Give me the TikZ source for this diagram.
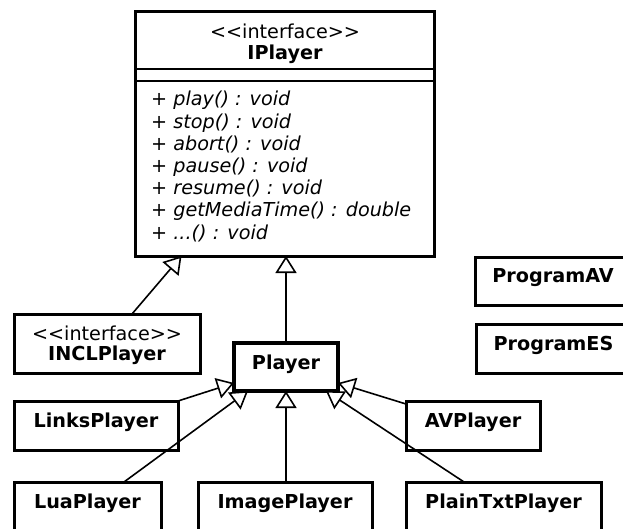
\documentclass[tikz,border=0pt]{standalone}
\usepackage{fontspec}
\setmainfont{DejaVu Sans}
\usetikzlibrary{arrows.meta}
\newcommand\umlsize{\fontsize{19.2}{22}\selectfont}
\newcommand\umlstereo[1]{<\kern0pt<#1>\kern0pt>}
\begin{document}
\begin{tikzpicture}[x=1pt,y=-1pt,
  frame/.style={draw, line width=3pt, inner sep=0pt, outer sep=0pt},
  cls/.style={frame, text height=26pt, font=\umlsize\bfseries},
  stereotxt/.style={anchor=base, inner sep=0pt, font=\umlsize},
  nametxt/.style={anchor=base, inner sep=0pt, font=\umlsize\bfseries},
  optxt/.style={anchor=base west, inner sep=0pt, font=\umlsize\itshape},
  sepline/.style={line width=2pt},
  gen/.style={line width=1.6pt, -{Triangle[open, length=17pt, width=21pt, fill=white]}}]

\fill[white] (0,0) rectangle (623,529);
\useasboundingbox (0,0) rectangle (623,529);
\clip (0,0) rectangle (623,529);

% interface IPlayer with its operations
\node[frame, minimum width=299pt, minimum height=244.5pt, anchor=north west] (iplayer) at (135.5,11.5) {};
\draw[sepline] ([yshift=-57.5pt]iplayer.north west) -- ([yshift=-57.5pt]iplayer.north east);
\draw[sepline] ([yshift=-69.5pt]iplayer.north west) -- ([yshift=-69.5pt]iplayer.north east);
\node[stereotxt] (ip-st) at ([yshift=-26.8pt]iplayer.north) {\umlstereo{interface}};
\node[nametxt] (ip-name) at ([yshift=-47.8pt]iplayer.north) {IPlayer};
\foreach \op [count=\i] in {play() : void, stop() : void, abort() : void, pause() : void,
    resume() : void, getMediaTime() : double}
  \node[optxt] (op\i) at (151, 83.8+22.2*\i) {+ \op};
\node[optxt] (op7) at (151, 83.8+22.2*7) {+ ...() : void};

% interface INCLPlayer
\node[frame, minimum width=186pt, minimum height=59pt, anchor=north west] (incl) at (14,314) {};
\node[stereotxt] (incl-st) at ([yshift=-26pt]incl.north) {\umlstereo{interface}};
\node[nametxt] (incl-name) at ([yshift=-46.5pt]incl.north) {INCLPlayer};

% classes
\node[cls, minimum width=104pt, text depth=22pt, line width=3.3pt, anchor=north west] (player) at (234,343) {Player};
\node[cls, minimum width=164pt, text depth=23pt, anchor=north west] (links) at (14,401) {LinksPlayer};
\node[cls, minimum width=134pt, text depth=23pt, anchor=north west] (av) at (406,401) {AVPlayer};
\node[cls, minimum width=147pt, text depth=60pt, anchor=north west] (lua) at (14,482) {LuaPlayer};
\node[cls, minimum width=174pt, text depth=60pt, anchor=north west] (image) at (198,482) {ImagePlayer};
\node[cls, minimum width=195pt, text depth=60pt, anchor=north west] (plain) at (406,482) {PlainTxtPlayer};
\node[cls, minimum width=156pt, text height=25pt, text depth=23pt, anchor=north west] (progav) at (475,257) {ProgramAV};
\node[cls, minimum width=155pt, text depth=23pt, anchor=north west] (proges) at (476,324) {ProgramES};

% generalisations
\draw[gen] ([xshift=25pt]incl.north) -- ([xshift=-103.5pt]iplayer.south);
\draw[gen] (player.north) -- (player.north |- iplayer.south);
\draw[gen] (links.north east) -- ([yshift=8pt]player.south west);
\draw[gen] ([xshift=110pt]lua.north west) -- ([xshift=14pt]player.south west);
\draw[gen] (player.south |- image.north) -- (player.south);
\draw[gen] ([xshift=58pt]plain.north west) -- ([xshift=-12pt]player.south east);
\draw[gen] ([yshift=-3pt]av.north west) -- ([yshift=8pt]player.south east);
\end{tikzpicture}
\end{document}
